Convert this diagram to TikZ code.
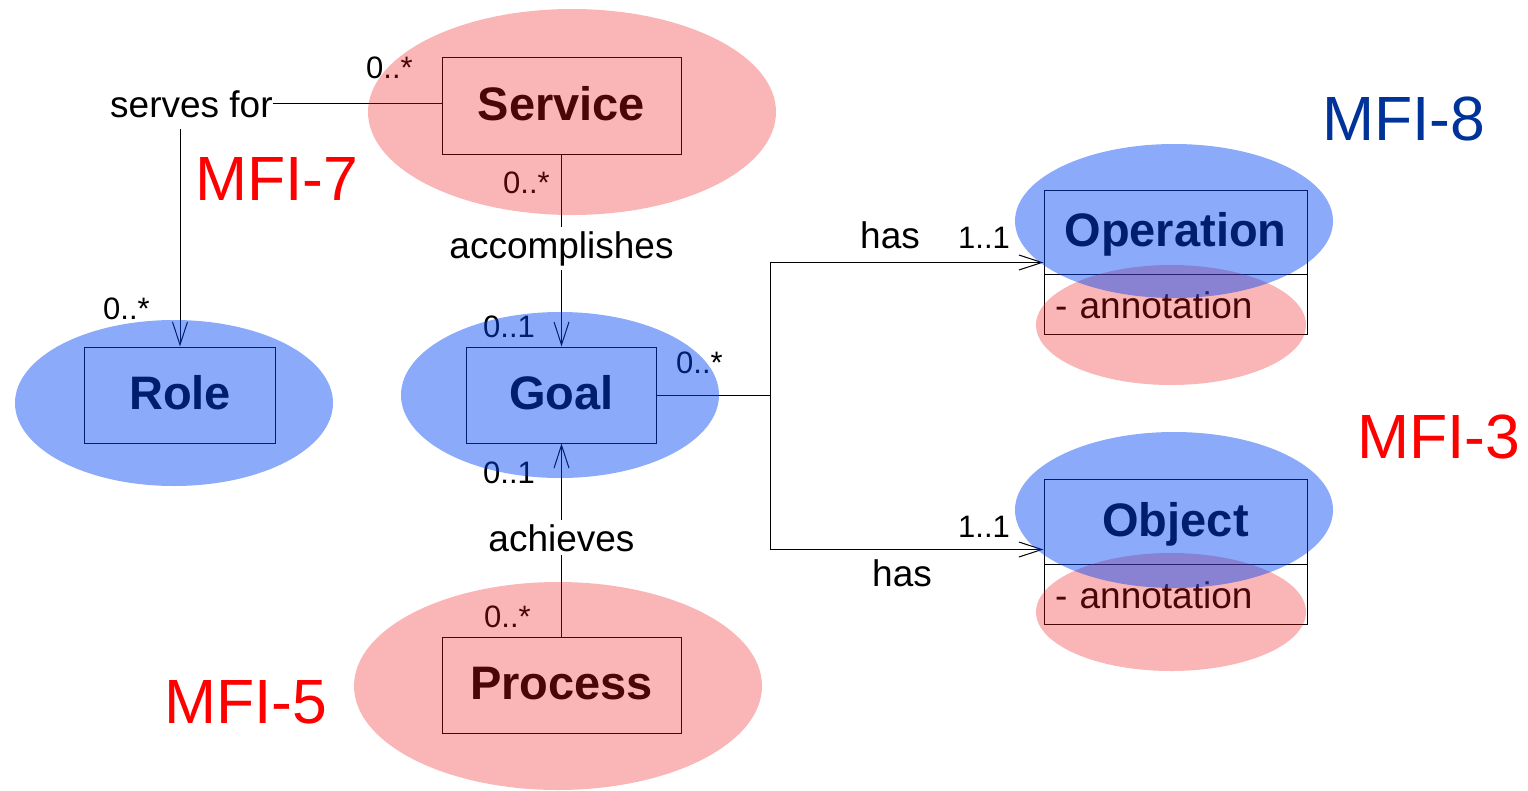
\documentclass[tikz,border=0pt]{standalone}
\usepackage{fontspec}
\setmainfont{Liberation Sans}
\usetikzlibrary{arrows.meta}
\definecolor{ovred}{RGB}{240,20,20}
\definecolor{ovblue}{RGB}{0,67,244}
\definecolor{mfired}{RGB}{255,0,0}
\definecolor{mfiblue}{RGB}{0,51,153}
\newcommand\clsfont{\fontsize{47}{50}\selectfont\bfseries}
\newcommand\txtfont{\fontsize{37}{40}\selectfont}
\newcommand\multfont{\fontsize{31}{34}\selectfont}
\newcommand\mfifont{\fontsize{62.5}{66}\selectfont}
\tikzset{
  cls/.style={draw, line width=1pt, inner sep=0pt, text height=29pt, text depth=0pt, font=\clsfont},
  attrbox/.style={draw, line width=1pt, inner xsep=11pt, inner ysep=0pt, text width=241pt, align=left,
                  minimum height=60pt, text height=28pt, text depth=0pt, font=\txtfont},
  mult/.style={anchor=base west, inner sep=0pt, font=\multfont},
  txt/.style={anchor=base west, inner sep=0pt, font=\txtfont},
  onlinelbl/.style={anchor=base, inner xsep=2pt, inner ysep=4pt, fill=white, font=\txtfont},
  mfi/.style={anchor=base west, inner sep=0pt, font=\mfifont},
  conn/.style={line width=1pt},
  arr/.style={conn, -{Straight Barb[length=23pt,width=15pt]}},
  redov/.style={fill=ovred, fill opacity=0.31},
  blueov/.style={fill=ovblue, fill opacity=0.45},
}
\begin{document}
\begin{tikzpicture}[x=1pt,y=-1pt]
\useasboundingbox (0,0) rectangle (1528,790);

% class boxes
\node[cls, minimum width=239pt, minimum height=97pt] (service) at (561.5,105.5) {Service};
\node[cls, minimum width=191pt, minimum height=96pt] (role) at (180,395) {Role};
\node[cls, minimum width=190pt, minimum height=96pt] (goal) at (561.5,395) {Goal};
\node[cls, minimum width=239pt, minimum height=96pt] (process) at (561.5,685) {Process};
\node[cls, minimum width=263pt, minimum height=84pt] (opname) at (1175.5,232) {Operation};
\node[attrbox] (opattr) at (1175.5,304) {- annotation};
\node[cls, minimum width=263pt, minimum height=85pt] (objname) at (1175.5,521.5) {Object};
\node[attrbox] (objattr) at (1175.5,594) {- annotation};

% serves for
\node[txt] (serves) at (110,117) {serves for};
\coordinate (svdown) at (180,129);
\draw[conn] (serves.east) -- (service.west |- serves.east);
\draw[arr] (svdown) -- (role.north);

% accomplishes / achieves
\draw[arr] (service.south) -- (goal.north);
\node[onlinelbl] (accomp) at (561.5,258) {accomplishes};
\draw[arr] (process.north) -- (goal.south);
\node[onlinelbl] (achv) at (561.5,551) {achieves};

% has connectors
\coordinate (junc) at (770,395);
\draw[conn] (goal.east) -- (junc);
\draw[arr] (junc) |- ([yshift=11pt]opattr.north west);
\draw[arr] (junc) |- ([yshift=14pt]objattr.north west);
\node[txt] (has1) at (860,248) {has};
\node[txt] (has2) at (872,586) {has};

% multiplicities
\node[mult] (m1) at (366,78) {0..*};
\node[mult] (m2) at (503,193) {0..*};
\node[mult] (m3) at (103,319) {0..*};
\node[mult] (m4) at (483,337) {0..1};
\node[mult] (m5) at (483,483) {0..1};
\node[mult] (m6) at (676,373) {0..*};
\node[mult] (m7) at (484,627) {0..*};
\node[mult] (m8) at (958,248) {1..1};
\node[mult] (m9) at (958,537) {1..1};

% MFI labels
\node[mfi, text=mfired] (mfi7) at (195,200) {MFI-7};
\node[mfi, text=mfiblue] (mfi8) at (1322,140) {MFI-8};
\node[mfi, text=mfired] (mfi3) at (1357,458) {MFI-3};
\node[mfi, text=mfired] (mfi5) at (164,723) {MFI-5};

% overlays
\fill[redov] (572,112) ellipse [x radius=204pt, y radius=103pt];
\fill[redov] (558,686) ellipse [x radius=204pt, y radius=104pt];
\fill[redov] (1171,325) ellipse [x radius=135pt, y radius=60pt];
\fill[redov] (1171,612) ellipse [x radius=135pt, y radius=59pt];
\fill[blueov] (174,403) ellipse [x radius=159pt, y radius=83pt];
\fill[blueov] (560,395) ellipse [x radius=159pt, y radius=83pt];
\fill[blueov] (1174,221) ellipse [x radius=159pt, y radius=77pt];
\fill[blueov] (1174,510) ellipse [x radius=159pt, y radius=78pt];
\end{tikzpicture}
\end{document}
